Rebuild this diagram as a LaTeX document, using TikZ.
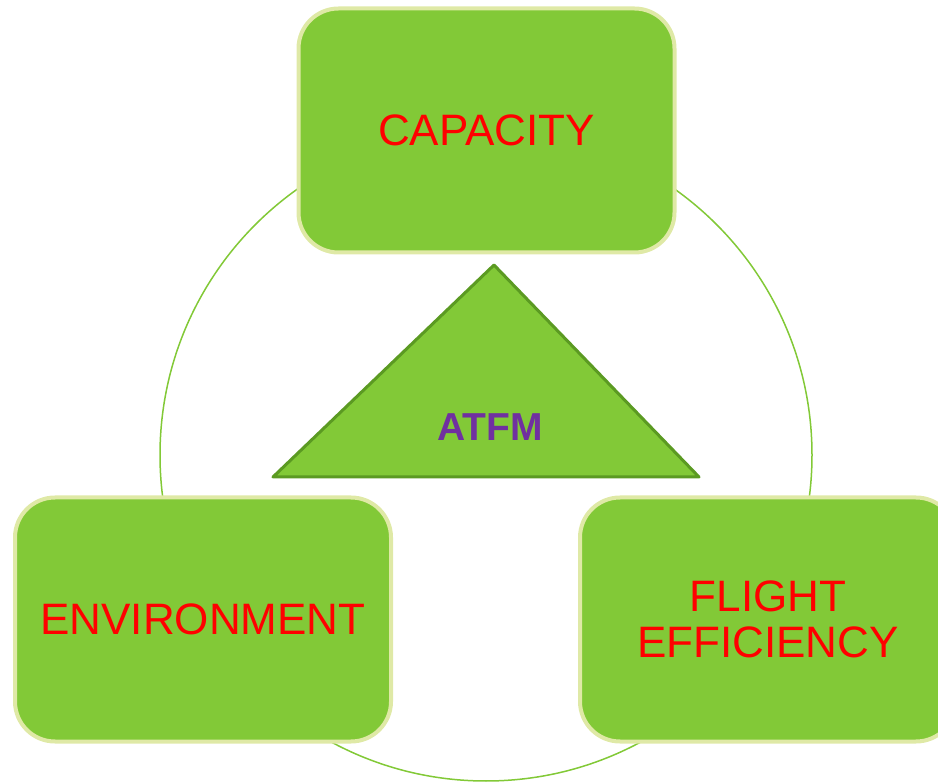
\documentclass[tikz,border=0pt]{standalone}
\usepackage{fontspec}
\setmainfont{Liberation Sans}
\definecolor{boxfill}{HTML}{82C937}
\definecolor{boxedge}{HTML}{DFE9A6}
\definecolor{tridark}{HTML}{5B9A22}
\definecolor{atfmpurple}{HTML}{7030A0}
\begin{document}
\begin{tikzpicture}[x=1pt,y=-1pt,
  pillar/.style={draw=boxedge, fill=boxfill, line width=4pt, rounded corners=40pt,
    minimum width=376pt, minimum height=244pt, align=center, text=red,
    font=\fontsize{44}{46}\selectfont, inner sep=0pt},
  ring/.style={circle, draw=boxfill, line width=1.5pt, minimum size=652pt, inner sep=0pt},
  tri/.style={draw=tridark, fill=boxfill, line width=3pt, line join=round},
  core/.style={text=atfmpurple, font=\fontsize{39}{40}\selectfont\bfseries, inner sep=0pt}]
\useasboundingbox (0,0) rectangle (938,783);
\clip (0,0) rectangle (938,783);
\node[ring] (ring) at (486,455) {};
\node[pillar] (capacity) at (486.5,130.5) {CAPACITY};
\node[pillar] (environment) at (203,619.5) {ENVIRONMENT};
\node[pillar] (flight) at (768,619.5) {FLIGHT\\EFFICIENCY};
\coordinate (apex) at (494,265);
\coordinate (bright) at (699,477);
\coordinate (bleft) at (273,477);
\draw[tri] (apex) -- (bright) -- (bleft) -- cycle;
\node[core] (atfm) at (490,427) {ATFM};
\end{tikzpicture}
\end{document}
